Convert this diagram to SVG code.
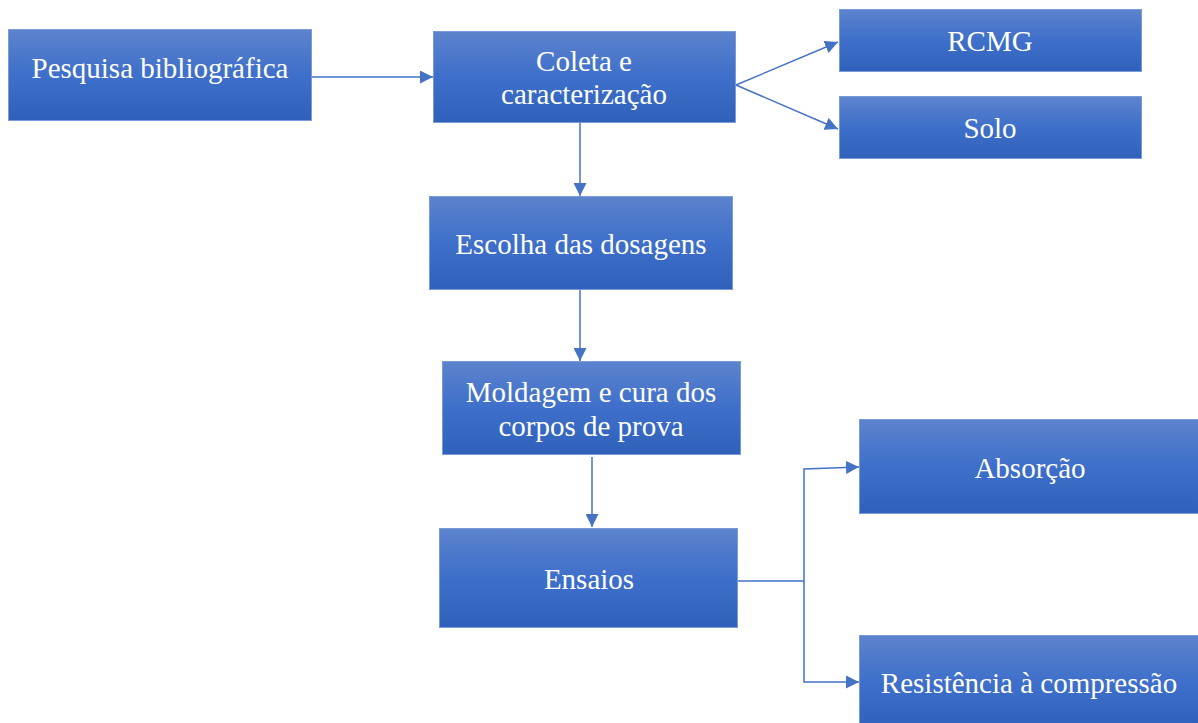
<svg xmlns="http://www.w3.org/2000/svg" width="1198" height="723" viewBox="0 0 1198 723">
<defs>
<linearGradient id="g" x1="0" y1="0" x2="0" y2="1">
<stop offset="0" stop-color="#5d83cd"/>
<stop offset="0.5" stop-color="#3e6fca"/>
<stop offset="1" stop-color="#2f61ba"/>
</linearGradient>
<marker id="ah" viewBox="0 0 10 10" refX="10" refY="5" markerWidth="13" markerHeight="13" markerUnits="userSpaceOnUse" orient="auto">
<path d="M0,0 L10,5 L0,10 Z" fill="#4472c4"/>
</marker>
<style>
.box{fill:url(#g);stroke:#7b9bd6;stroke-width:1}
.t{font-family:"Liberation Serif","Times New Roman",serif;font-size:29px;fill:#ffffff;text-anchor:middle}
.c{fill:none;stroke:#4472c4;stroke-width:1.5;marker-end:url(#ah)}
</style>
</defs>
<rect width="1198" height="723" fill="#ffffff"/>
<g id="connectors">
<path class="c" d="M312,77 L433,77"/>
<path class="c" d="M736,85 L838,42"/>
<path class="c" d="M736,85 L838,129"/>
<path class="c" d="M580,123 L580,196"/>
<path class="c" d="M580,290 L580,361"/>
<path class="c" d="M592,457 L592,527"/>
<path class="c" d="M738,581 L804,581 L804,469 L859,467"/>
<path class="c" d="M804,581 L804,682 L859,682"/>
</g>
<g id="n-pesquisa"><rect class="box" x="8.5" y="29.5" width="303" height="91"/><text class="t" x="160" y="78">Pesquisa bibliográfica</text></g>
<g id="n-coleta"><rect class="box" x="433.5" y="31.5" width="302" height="91"/><text class="t" x="584" y="71">Coleta e</text><text class="t" x="584" y="104">caracterização</text></g>
<g id="n-rcmg"><rect class="box" x="839.5" y="9.5" width="302" height="62"/><text class="t" x="990" y="51">RCMG</text></g>
<g id="n-solo"><rect class="box" x="839.5" y="96.5" width="302" height="62"/><text class="t" x="990" y="138">Solo</text></g>
<g id="n-escolha"><rect class="box" x="429.5" y="196.5" width="303" height="93"/><text class="t" x="581" y="254">Escolha das dosagens</text></g>
<g id="n-moldagem"><rect class="box" x="442.5" y="361.5" width="298" height="93"/><text class="t" x="591" y="402">Moldagem e cura dos</text><text class="t" x="591" y="436">corpos de prova</text></g>
<g id="n-ensaios"><rect class="box" x="439.5" y="528.5" width="298" height="99"/><text class="t" x="589" y="589">Ensaios</text></g>
<g id="n-absorcao"><rect class="box" x="859.5" y="419.5" width="345" height="94"/><text class="t" x="1030" y="478">Absorção</text></g>
<g id="n-resistencia"><rect class="box" x="859.5" y="635.5" width="345" height="94"/><text class="t" x="1029" y="693">Resistência à compressão</text></g>
</svg>
